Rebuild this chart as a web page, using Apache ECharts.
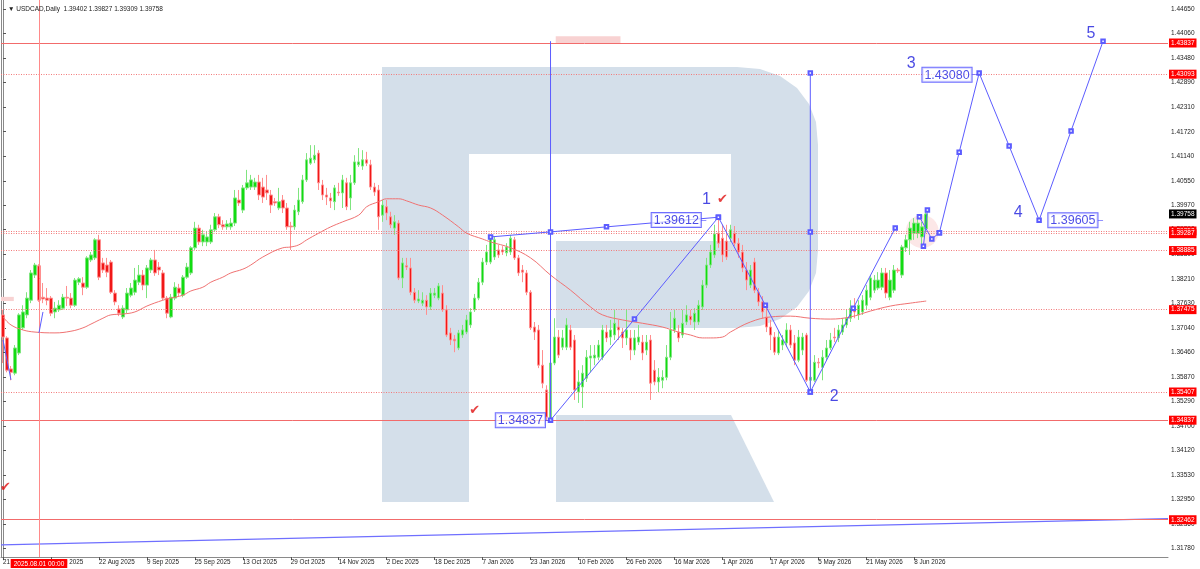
<!DOCTYPE html>
<html><head><meta charset="utf-8">
<script src="https://cdn.jsdelivr.net/npm/echarts@6/dist/echarts.min.js"></script>
<style>html,body{margin:0;padding:0;background:#fff}#c{width:1200px;height:569px}</style>
</head><body><div id="c"></div>
<script>
const barCount = 292;
const xTickLabels = ['21 Jul 2025','6 Aug 2025','22 Aug 2025','9 Sep 2025','25 Sep 2025','13 Oct 2025','29 Oct 2025','14 Nov 2025','2 Dec 2025','18 Dec 2025','7 Jan 2026','23 Jan 2026','10 Feb 2026','26 Feb 2026','16 Mar 2026','1 Apr 2026','17 Apr 2026','5 May 2026','21 May 2026','8 Jun 2026'];
const yTicks = [1.44650,1.44060,1.43480,1.42890,1.42310,1.41720,1.41140,1.40550,1.39970,1.39390,1.38800,1.38210,1.37630,1.37040,1.36460,1.35870,1.35290,1.34700,1.34120,1.33530,1.32950,1.32360,1.31780];
const yMin = 1.31573, yMax = 1.44863;
// [open, close, low, high]
const candles = [
[1.3735,1.3682,1.3620,1.3747],[1.3680,1.3603,1.3598,1.3684],[1.3606,1.3598,1.3579,1.3613],[1.3596,1.3656,1.3591,1.3663],[1.3644,1.3735,1.3639,1.3739],
[1.3704,1.3742,1.3699,1.3758],[1.3735,1.3775,1.3727,1.3789],[1.3770,1.3835,1.3763,1.3842],[1.3830,1.3854,1.3823,1.3859],[1.3852,1.3770,1.3766,1.3856],
[1.3777,1.3773,1.3763,1.3811],[1.3775,1.3770,1.3758,1.3799],[1.3775,1.3739,1.3732,1.3780],[1.3742,1.3751,1.3727,1.3766],[1.3747,1.3758,1.3742,1.3770],
[1.3751,1.3777,1.3747,1.3785],[1.3777,1.3775,1.3756,1.3804],[1.3775,1.3758,1.3751,1.3787],[1.3758,1.3818,1.3754,1.3823],[1.3813,1.3821,1.3806,1.3825],
[1.3811,1.3801,1.3782,1.3825],[1.3801,1.3871,1.3797,1.3875],[1.3866,1.3878,1.3861,1.3885],[1.3871,1.3914,1.3866,1.3918],[1.3914,1.3825,1.3818,1.3926],
[1.3859,1.3842,1.3835,1.3871],[1.3854,1.3837,1.3825,1.3871],[1.3861,1.3789,1.3785,1.3866],[1.3787,1.3766,1.3758,1.3794],[1.3749,1.3739,1.3732,1.3758],
[1.3730,1.3751,1.3725,1.3758],[1.3747,1.3787,1.3739,1.3799],[1.3782,1.3799,1.3777,1.3811],[1.3789,1.3818,1.3782,1.3847],[1.3813,1.3830,1.3806,1.3854],
[1.3830,1.3806,1.3794,1.3842],[1.3806,1.3847,1.3775,1.3854],[1.3842,1.3866,1.3835,1.3871],[1.3866,1.3835,1.3828,1.3890],[1.3849,1.3842,1.3830,1.3861],
[1.3835,1.3775,1.3770,1.3842],[1.3775,1.3739,1.3727,1.3780],[1.3730,1.3777,1.3727,1.3785],[1.3775,1.3801,1.3770,1.3813],[1.3799,1.3787,1.3780,1.3809],
[1.3782,1.3825,1.3777,1.3830],[1.3825,1.3849,1.3821,1.3859],[1.3835,1.3895,1.3830,1.3899],[1.3895,1.3942,1.3890,1.3957],[1.3942,1.3909,1.3902,1.3950],
[1.3909,1.3926,1.3899,1.3938],[1.3909,1.3921,1.3899,1.3933],[1.3909,1.3938,1.3904,1.3950],[1.3938,1.3969,1.3933,1.3978],[1.3969,1.3950,1.3942,1.3976],
[1.3950,1.3945,1.3938,1.3961],[1.3945,1.3952,1.3938,1.3961],[1.3945,1.3954,1.3938,1.3966],[1.3954,1.4014,1.3947,1.4033],[1.4009,1.4002,1.3995,1.4033],
[1.3985,1.4038,1.3978,1.4045],[1.4038,1.4050,1.4033,1.4081],[1.4040,1.4057,1.4033,1.4069],[1.4040,1.4052,1.4033,1.4062],[1.4052,1.4021,1.4009,1.4069],
[1.4040,1.4016,1.4002,1.4062],[1.4033,1.4026,1.4009,1.4069],[1.4021,1.3997,1.3978,1.4033],[1.4005,1.4002,1.3995,1.4014],[1.3990,1.4005,1.3985,1.4038],
[1.4009,1.3990,1.3978,1.4021],[1.3990,1.3945,1.3938,1.4002],[1.3947,1.3945,1.3890,1.3957],[1.3945,1.3985,1.3938,1.3997],[1.3981,1.4009,1.3973,1.4038],
[1.4005,1.4057,1.4000,1.4069],[1.4057,1.4105,1.4052,1.4121],[1.4097,1.4109,1.4093,1.4140],[1.4105,1.4116,1.4097,1.4140],[1.4121,1.4050,1.4033,1.4128],
[1.4045,1.4021,1.4009,1.4057],[1.4021,1.4016,1.3997,1.4038],[1.4014,1.4007,1.3990,1.4026],[1.4005,1.4038,1.3985,1.4045],[1.4028,1.4026,1.4019,1.4050],
[1.4026,1.4057,1.3990,1.4069],[1.4050,1.3993,1.3985,1.4062],[1.4014,1.4050,1.3985,1.4069],[1.4050,1.4100,1.4045,1.4116],[1.4093,1.4100,1.4088,1.4133],
[1.4090,1.4105,1.4081,1.4128],[1.4105,1.4097,1.4090,1.4124],[1.4093,1.4040,1.4033,1.4105],[1.4040,1.4028,1.4019,1.4050],[1.4033,1.3969,1.3938,1.4045],
[1.3973,1.3997,1.3957,1.4009],[1.3993,1.3978,1.3961,1.4009],[1.3969,1.3950,1.3942,1.3981],[1.3942,1.3957,1.3926,1.3973],[1.3954,1.3823,1.3818,1.3961],
[1.3823,1.3859,1.3799,1.3871],[1.3852,1.3849,1.3842,1.3871],[1.3847,1.3789,1.3782,1.3871],[1.3789,1.3770,1.3763,1.3799],[1.3768,1.3773,1.3763,1.3794],
[1.3763,1.3770,1.3756,1.3789],[1.3770,1.3754,1.3735,1.3782],[1.3754,1.3787,1.3747,1.3799],[1.3782,1.3787,1.3775,1.3799],[1.3775,1.3804,1.3770,1.3811],
[1.3787,1.3747,1.3742,1.3806],[1.3747,1.3687,1.3682,1.3758],[1.3692,1.3675,1.3663,1.3704],[1.3677,1.3673,1.3646,1.3687],[1.3656,1.3692,1.3651,1.3699],
[1.3687,1.3699,1.3680,1.3711],[1.3694,1.3723,1.3689,1.3735],[1.3711,1.3742,1.3704,1.3751],[1.3747,1.3775,1.3742,1.3785],[1.3775,1.3813,1.3770,1.3823],
[1.3813,1.3861,1.3806,1.3871],[1.3861,1.3885,1.3854,1.3902],[1.3861,1.3918,1.3856,1.3926],[1.3873,1.3914,1.3866,1.3923],[1.3890,1.3878,1.3871,1.3902],
[1.3890,1.3885,1.3878,1.3899],[1.3883,1.3897,1.3875,1.3906],[1.3885,1.3918,1.3878,1.3926],[1.3914,1.3871,1.3866,1.3921],[1.3871,1.3835,1.3828,1.3878],
[1.3842,1.3837,1.3813,1.3854],[1.3835,1.3789,1.3782,1.3842],[1.3789,1.3704,1.3699,1.3794],[1.3706,1.3694,1.3675,1.3718],[1.3699,1.3615,1.3608,1.3711],
[1.3615,1.3572,1.3560,1.3651],[1.3556,1.3491,1.3484,1.3567],[1.3489,1.3620,1.3484,1.3627],[1.3620,1.3682,1.3615,1.3727],[1.3682,1.3639,1.3632,1.3699],
[1.3658,1.3680,1.3651,1.3699],[1.3658,1.3711,1.3651,1.3727],[1.3699,1.3658,1.3651,1.3711],[1.3675,1.3556,1.3532,1.3687],[1.3551,1.3575,1.3525,1.3603],
[1.3563,1.3596,1.3513,1.3615],[1.3584,1.3634,1.3575,1.3651],[1.3632,1.3637,1.3598,1.3663],[1.3632,1.3639,1.3615,1.3663],[1.3634,1.3663,1.3627,1.3675],
[1.3634,1.3699,1.3627,1.3711],[1.3694,1.3680,1.3670,1.3711],[1.3682,1.3699,1.3663,1.3723],[1.3687,1.3715,1.3675,1.3747],[1.3706,1.3699,1.3675,1.3723],
[1.3694,1.3680,1.3656,1.3704],[1.3680,1.3699,1.3663,1.3747],[1.3680,1.3651,1.3627,1.3699],[1.3651,1.3680,1.3639,1.3699],[1.3670,1.3682,1.3663,1.3711],
[1.3670,1.3644,1.3627,1.3687],[1.3651,1.3670,1.3639,1.3687],[1.3675,1.3572,1.3532,1.3687],[1.3603,1.3575,1.3567,1.3627],[1.3575,1.3586,1.3551,1.3608],
[1.3579,1.3586,1.3560,1.3603],[1.3586,1.3634,1.3579,1.3663],[1.3634,1.3699,1.3627,1.3742],[1.3699,1.3727,1.3692,1.3747],[1.3694,1.3680,1.3670,1.3711],
[1.3687,1.3715,1.3680,1.3747],[1.3718,1.3735,1.3711,1.3758],[1.3732,1.3723,1.3711,1.3747],[1.3718,1.3739,1.3699,1.3751],[1.3718,1.3758,1.3711,1.3770],
[1.3754,1.3806,1.3747,1.3818],[1.3806,1.3854,1.3799,1.3871],[1.3854,1.3885,1.3847,1.3902],[1.3878,1.3928,1.3871,1.3950],[1.3930,1.3906,1.3895,1.3965],
[1.3918,1.3878,1.3861,1.3950],[1.3911,1.3873,1.3866,1.3950],[1.3918,1.3938,1.3909,1.3950],[1.3930,1.3906,1.3899,1.3947],[1.3906,1.3885,1.3871,1.3918],
[1.3885,1.3847,1.3837,1.3902],[1.3842,1.3818,1.3794,1.3861],[1.3806,1.3842,1.3799,1.3854],[1.3861,1.3794,1.3787,1.3871],[1.3789,1.3766,1.3756,1.3799],
[1.3766,1.3742,1.3727,1.3780],[1.3730,1.3706,1.3694,1.3758],[1.3706,1.3687,1.3651,1.3723],[1.3682,1.3646,1.3639,1.3694],[1.3644,1.3682,1.3639,1.3699],
[1.3663,1.3675,1.3651,1.3687],[1.3668,1.3699,1.3658,1.3715],[1.3699,1.3663,1.3656,1.3711],[1.3668,1.3627,1.3615,1.3687],[1.3627,1.3682,1.3622,1.3699],
[1.3651,1.3682,1.3639,1.3692],[1.3687,1.3579,1.3575,1.3692],[1.3579,1.3586,1.3551,1.3627],[1.3579,1.3622,1.3575,1.3639],[1.3622,1.3620,1.3608,1.3632],
[1.3610,1.3634,1.3579,1.3651],[1.3634,1.3656,1.3627,1.3675],[1.3656,1.3675,1.3651,1.3692],[1.3682,1.3680,1.3670,1.3704],[1.3680,1.3699,1.3670,1.3711],
[1.3694,1.3711,1.3687,1.3727],[1.3711,1.3727,1.3704,1.3747],[1.3727,1.3751,1.3718,1.3770],[1.3754,1.3742,1.3727,1.3775],[1.3735,1.3758,1.3723,1.3770],
[1.3742,1.3770,1.3735,1.3782],[1.3758,1.3794,1.3747,1.3806],[1.3777,1.3823,1.3770,1.3830],[1.3794,1.3818,1.3787,1.3830],[1.3799,1.3818,1.3794,1.3837],
[1.3801,1.3835,1.3794,1.3847],[1.3835,1.3787,1.3775,1.3847],[1.3777,1.3818,1.3770,1.3842],[1.3794,1.3842,1.3787,1.3854],[1.3842,1.3840,1.3835,1.3847],
[1.3830,1.3897,1.3823,1.3902],[1.3895,1.3914,1.3885,1.3926],[1.3914,1.3942,1.3878,1.3957],[1.3930,1.3954,1.3914,1.3966],[1.3930,1.3954,1.3918,1.3966],
[1.3921,1.3945,1.3902,1.3957],[1.39402,1.39758,1.39309,1.39827]
];
// moving average: [barIndex, value]
const maPoints = [[0,1.3730],[2,1.3711],[5,1.3699],[8,1.3694],[13,1.3692],[17,1.3696],[20,1.3704],[22,1.3713],[25,1.3727],[27,1.3735],[30,1.3737],[33,1.3742],[36,1.3756],[40,1.3770],[42,1.3775],[45,1.3782],[47,1.3792],[50,1.3801],[52,1.3813],[55,1.3825],[57,1.3835],[60,1.3844],[62,1.3854],[65,1.3873],[70,1.3895],[72,1.3897],[74,1.3902],[76,1.3914],[79,1.3930],[82,1.3945],[85,1.3957],[89,1.3973],[91,1.3993],[94,1.4005],[96,1.4012],[99,1.4012],[101,1.4007],[104,1.3997],[107,1.3990],[110,1.3973],[114,1.3945],[116,1.3930],[120,1.3916],[122,1.3909],[127,1.3895],[132,1.3871],[137,1.3830],[142,1.3794],[147,1.3754],[150,1.3735],[155,1.3723],[160,1.3715],[165,1.3706],[169,1.3694],[172,1.3687],[175,1.3680],[177,1.3680],[180,1.3682],[182,1.3694],[187,1.3718],[192,1.3730],[197,1.3732],[202,1.3727],[207,1.3725],[212,1.3730],[217,1.3744],[222,1.3756],[227,1.3763],[231,1.3768]];
// drawn wave / trend objects: [barIndex, price]
const waveLine1 = [[122,1.3921],[137,1.3933],[151,1.3945],[179,1.3968]];
const waveMain = [[137,1.34837],[158,1.3725],[179,1.3968],[190.75,1.3758],[202,1.3551],[212.75,1.3751],[223.25,1.3942]];
const waveSmallA = [[229.3,1.3969],[232.4,1.3916],[234.3,1.3931]];
const waveSmallB = [[230.3,1.3899],[231.3,1.3985]];
const waveForecast = [[234.3,1.3931],[239.25,1.4123],[244.25,1.4312],[251.75,1.4138],[259.25,1.3961],[267.25,1.4174],[275.25,1.4388]];
const vLine1 = [[137,1.34837],[137,1.4388]];
const vLine2 = [[202,1.3551],[202,1.3933],[202,1.4312]];
const leftBit1 = [[0,1.3675],[2,1.3580]];
const leftBit2 = [[9,1.3692],[10,1.3742]];
const trendLine = [[-0.5,1.3186],[291.5,1.3249]];
const hLines = [
  {price:1.43837, kind:'solid', text:'1.43837'},
  {price:1.43093, kind:'dotted', text:'1.43093'},
  {price:1.39352, kind:'dotted', text:'1.39352'},
  {price:1.39287, kind:'dotted', text:'1.39287'},
  {price:1.38885, kind:'dotted', text:'1.38885'},
  {price:1.37475, kind:'dotted', text:'1.37475'},
  {price:1.35510, kind:'dotted', text:'1.35407'},
  {price:1.34837, kind:'solid', text:'1.34837'},
  {price:1.32462, kind:'solid', text:'1.32462'}
];
const lastPrice = {price:1.39758, text:'1.39758'};
const crossBar = {index:9, text:'2025.08.01 00:00'};
const waveNumbers = [['1',176,1.4009],['2',208,1.3539],['3',227.25,1.4334],['4',254,1.3978],['5',272.25,1.4405]];
const checkMarks = [[180,1.4009],[118,1.3506],[0.6,1.3324]];
const priceBoxes = [['1.39612',176,1.39612],['1.34837',137,1.34837],['1.43080',243.75,1.43080],['1.39605',275.25,1.39605]];
const pinkAreas = [[138.3,1.43837,154.5,1.4400],[-0.5,1.3768,2.7,1.3778]];
const pinkCircle = [230,1.3934];
const title = '\u25BC USDCAD,Daily  1.39402 1.39827 1.39309 1.39758';

const FONT = 'Liberation Sans, Arial, sans-serif';
const BLUE = '#5c5cff';
const categories = [];
for (let i = 0; i < barCount; i++) categories.push(String(i));

function waveSeries(data, showSym) {
  return {type:'line', xAxisIndex:1, yAxisIndex:0, data:data, silent:true, z:5,
    symbol:'emptyRect', symbolSize:3.5, showSymbol:showSym, showAllSymbol:true,
    lineStyle:{color:BLUE, width:1}, itemStyle:{color:BLUE, borderColor:BLUE, borderWidth:1}};
}

const markLineData = hLines.map(h => ({
  yAxis: h.price,
  lineStyle: {color: h.kind==='solid' ? '#f26b6b' : '#f27a7a', type: h.kind==='solid' ? 'solid' : [1,1.5], width:1},
  label: {show:true, position:'end', distance:1, formatter:h.text, color:'#fff', backgroundColor:'#ff0000',
    fontSize:6.5, fontFamily:FONT, padding:[1,2,0,2], lineHeight:8}
}));
markLineData.push({
  yAxis: lastPrice.price, lineStyle:{color:'rgba(0,0,0,0)', width:0},
  label:{show:true, position:'end', distance:1, formatter:lastPrice.text, color:'#fff', backgroundColor:'#000',
    fontSize:6.5, fontFamily:FONT, padding:[1,2,0,2], lineHeight:8}
});
markLineData.push({
  xAxis: crossBar.index, lineStyle:{color:'#ff8a8a', type:'solid', width:1},
  label:{show:true, position:'start', distance:2, formatter:crossBar.text, color:'#fff', backgroundColor:'#ff0000',
    fontSize:6.5, fontFamily:FONT, padding:[1,3,0,3], lineHeight:8}
});

const R_FILL = '#d4dfea';
const rBody = [[382,67],[737,67],[760,69],[780,76],[797,88],[809,104],[816,122],[818,145],[818,250],[816,273],[809,291],[797,307],[780,319],[760,326],[737,328],[556,328],[556,241],[731,241],[731,154],[469,154],[469,502],[382,502]];
const rLeg = [[556,415],[731,415],[774,502],[556,502]];

const chart = echarts.init(document.getElementById('c'), null, {renderer:'canvas'});
chart.setOption({
  animation:false,
  backgroundColor:'#fff',
  title:{text:title, left:3, top:1, textStyle:{fontSize:6.5, fontWeight:'normal', color:'#222', fontFamily:FONT}},
  graphic:[
    {type:'polygon', z:-10, silent:true, shape:{points:rBody}, style:{fill:R_FILL}},
    {type:'polygon', z:-10, silent:true, shape:{points:rLeg}, style:{fill:R_FILL}}
  ],
  grid:{left:0, right:32, top:0, bottom:12, containLabel:false},
  xAxis:[
    {type:'category', data:categories, boundaryGap:true,
     axisLine:{show:true, lineStyle:{color:'#8a8a8a'}},
     axisTick:{show:true, length:3, alignWithLabel:true, interval:(i)=> i%12===0 && i/12 < xTickLabels.length, lineStyle:{color:'#555'}},
     axisLabel:{show:true, interval:(i)=> i%12===0 && i/12 < xTickLabels.length, formatter:(v,i)=> (i%12===0 ? (xTickLabels[i/12]||'') : ''),
       align:'left', margin:2, fontSize:6.3, color:'#222', fontFamily:FONT, hideOverlap:false},
     splitLine:{show:false}},
    {type:'value', min:-0.5, max:barCount-0.5, show:false, splitLine:{show:false}}
  ],
  yAxis:[
    {type:'value', position:'right', min:yMin, max:yMax, scale:true,
     axisLine:{show:true, lineStyle:{color:'#8a8a8a'}},
     axisTick:{show:true, length:3, customValues:yTicks, lineStyle:{color:'#555'}},
     axisLabel:{show:true, customValues:yTicks, formatter:(v)=>v.toFixed(5), margin:3, fontSize:6.5, color:'#222', fontFamily:FONT},
     splitLine:{show:false}},
    {type:'value', position:'left', min:yMin, max:yMax, axisLine:{show:true, lineStyle:{color:'#8a8a8a'}},
     axisTick:{show:false}, axisLabel:{show:false}, splitLine:{show:false}}
  ],
  series:[
    {type:'line', name:'marks', xAxisIndex:1, yAxisIndex:0, data:[], silent:true, z:1,
     markArea:{silent:true, data: pinkAreas.map(a=>[{xAxis:a[0], yAxis:a[1], itemStyle:{color:'#f8d2d2'}},{xAxis:a[2], yAxis:a[3]}])},
     markLine:{silent:true, precision:6, symbol:['none','none'], animation:false, data:markLineData}},
    {type:'scatter', xAxisIndex:1, yAxisIndex:0, data:[pinkCircle], symbolSize:33, silent:true, z:1,
     itemStyle:{color:'rgba(244,170,170,0.35)'}},
    {type:'candlestick', xAxisIndex:0, yAxisIndex:0, data:candles, barWidth:3, z:3, silent:true,
     itemStyle:{color:'#12dc12', color0:'#f01818', borderColor:'#7fe57f', borderColor0:'#ff8f8f', borderWidth:1}},
    {type:'line', xAxisIndex:1, yAxisIndex:0, data:maPoints, smooth:0.4, showSymbol:false, silent:true, z:4,
     lineStyle:{color:'#f07272', width:1}},
    {type:'line', xAxisIndex:1, yAxisIndex:0, data:trendLine, showSymbol:false, silent:true, z:4,
     lineStyle:{color:'#6f6fff', width:1.2}},
    waveSeries(waveLine1, true),
    waveSeries(waveMain, true),
    waveSeries(waveSmallA, true),
    waveSeries(waveSmallB, true),
    waveSeries(waveForecast, true),
    waveSeries(vLine1, false),
    waveSeries(vLine2, true),
    waveSeries(leftBit1, false),
    waveSeries(leftBit2, false),
    {type:'scatter', xAxisIndex:1, yAxisIndex:0, symbolSize:0, silent:true, z:6,
     data: waveNumbers.map(w=>({value:[w[1], w[2]], label:{formatter:w[0]}})),
     label:{show:true, position:'inside', fontSize:16, color:'#1c1cdc', fontFamily:FONT}},
    {type:'scatter', xAxisIndex:1, yAxisIndex:0, symbolSize:0, silent:true, z:6,
     data: checkMarks,
     label:{show:true, position:'inside', formatter:'\u2714', fontSize:13, color:'#e01010', fontFamily:'DejaVu Sans'}},
    {type:'scatter', xAxisIndex:1, yAxisIndex:0, symbolSize:0, silent:true, z:7,
     data: priceBoxes.map(b=>({value:[b[1], b[2]], label:{formatter:'{b|'+b[0]+'}{d|\u2013}'}})),
     label:{show:true, position:'left', distance:0,
       rich:{b:{fontSize:12.5, color:'#2020e0', fontFamily:FONT, borderColor:'#4a4aff', borderWidth:1, padding:[1,2,0,2], backgroundColor:'rgba(255,255,255,0.85)'},
             d:{fontSize:10, color:'#4a4aff', fontFamily:FONT}}}}
  ]
});
</script></body></html>
